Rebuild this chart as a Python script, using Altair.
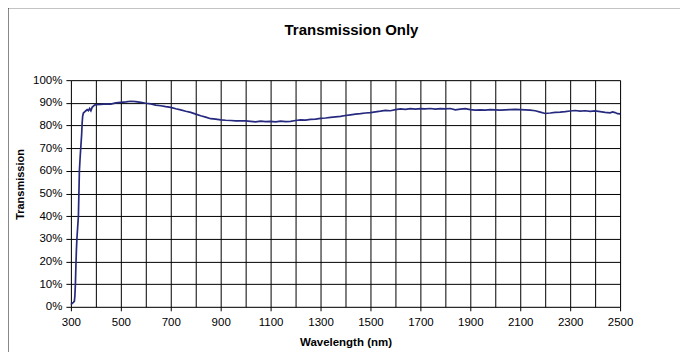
import altair as alt
import pandas as pd

wavelength = [300, 305, 310, 314, 316, 318, 320, 322, 324, 327, 330, 332, 334, 337, 340, 343, 345, 347,
              350, 355, 360, 365, 370, 375, 380, 385, 390, 395, 400, 420, 440, 460, 480, 500, 520, 540,
              560, 580, 600, 620, 640, 660, 680, 700, 720, 740, 760, 780, 800, 820, 840, 860, 880, 900,
              920, 940, 960, 980, 1000, 1020, 1040, 1060, 1080, 1100, 1120, 1140, 1160, 1180, 1200, 1220,
              1240, 1260, 1280, 1300, 1320, 1340, 1360, 1380, 1400, 1420, 1440, 1460, 1480, 1500, 1520,
              1540, 1560, 1580, 1600, 1620, 1640, 1660, 1680, 1700, 1720, 1740, 1760, 1780, 1800, 1820,
              1840, 1860, 1880, 1900, 1920, 1940, 1960, 1980, 2000, 2020, 2040, 2060, 2080, 2100, 2120,
              2140, 2160, 2180, 2200, 2220, 2240, 2260, 2280, 2300, 2320, 2340, 2360, 2380, 2400, 2420,
              2440, 2460, 2470, 2480, 2490, 2500]
transmission_pct = [1.0, 1.5, 2.0, 2.5, 5, 10, 18, 25, 30, 35, 40, 50, 60, 66, 71, 76, 81, 84,
                    85.5, 86, 86.5, 87, 86.5, 87.5, 86.5, 88, 88.5, 89, 89.2, 89.3, 89.5, 89.4, 90.0, 90.2,
                    90.4, 90.7, 90.5, 90.2, 89.8, 89.5, 89.0, 88.7, 88.3, 88.0, 87.4, 86.9, 86.3, 85.8, 85.0,
                    84.3, 83.7, 83.0, 82.8, 82.5, 82.3, 82.2, 82.0, 82.1, 82.0, 81.8, 81.6, 81.9, 81.7, 81.8,
                    81.6, 81.9, 81.7, 81.8, 82.2, 82.5, 82.4, 82.7, 82.8, 83.1, 83.3, 83.6, 83.8, 84.0, 84.4,
                    84.7, 85.0, 85.2, 85.5, 85.7, 86.0, 86.3, 86.7, 86.5, 87.0, 87.3, 87.1, 87.4, 87.2, 87.4,
                    87.3, 87.5, 87.2, 87.4, 87.3, 87.5, 86.9, 87.2, 87.4, 87.0, 86.8, 86.9, 86.8, 87.0, 86.9,
                    86.8, 86.9, 87.0, 87.1, 87.0, 86.9, 86.8, 86.5, 85.9, 85.3, 85.5, 85.8, 85.9, 86.1, 86.4,
                    86.6, 86.3, 86.5, 86.2, 86.4, 86.1, 85.8, 85.6, 86.0, 85.7, 85.2, 85.1]

x_label_ticks = list(range(300, 2501, 200))
x_grid_ticks = list(range(300, 2501, 100))
y_ticks = [i / 10 for i in range(0, 11)]

df = pd.DataFrame({"wl": wavelength, "t": [v / 100 for v in transmission_pct]})

FONT = "Liberation Sans"
xscale = alt.Scale(domain=[300, 2500], nice=False, zero=False)
yscale = alt.Scale(domain=[0, 1], nice=False)

line = alt.Chart(df).mark_line(color="#262A7E", strokeWidth=1.7).encode(
    x=alt.X("wl:Q", scale=xscale, axis=alt.Axis(
        values=x_label_ticks, format="d", grid=False, title="Wavelength (nm)", tickSize=4,
        tickColor="#000", domain=False, labelPadding=6, labelFontSize=11.5, labelFont=FONT,
        labelColor="#000", titleFont=FONT, titleFontSize=11.5, titleFontWeight="bold",
        titleColor="#000", titleY=39, titleBaseline="alphabetic", labelFlush=False,
        labelOverlap=False)),
    y=alt.Y("t:Q", scale=yscale, axis=alt.Axis(
        values=y_ticks, format=".0%", grid=True, gridColor="#000", gridOpacity=1, gridWidth=1,
        title="Transmission", tickSize=5, tickColor="#000", domain=False, labelPadding=4,
        labelFontSize=11.5, labelFont=FONT, labelColor="#000", titleFont=FONT, titleFontSize=11,
        titleFontWeight="bold", titleColor="#000", titleX=-47, titleY=104, titleAngle=-90,
        titleBaseline="alphabetic", titleAlign="center", labelFlush=False, labelOverlap=False)),
)

grid = alt.Chart(df).mark_point(opacity=0).encode(
    x=alt.X("wl:Q", scale=xscale, axis=alt.Axis(
        orient="top", values=x_grid_ticks, grid=True, gridColor="#000", gridOpacity=1, gridWidth=1,
        labels=False, ticks=False, domain=False, title=None)),
    y=alt.value(0),
)

border_df = pd.DataFrame({"k": [0]})
left_border = alt.Chart(border_df).mark_rule(color="#111", strokeWidth=2).encode(
    x=alt.value(-63.5), y=alt.value(-73), y2=alt.value(300))
top_border = alt.Chart(border_df).mark_rule(color="#111", strokeWidth=2).encode(
    x=alt.value(-64.5), x2=alt.value(640), y=alt.value(-73))

chart = alt.layer(line, grid, left_border, top_border).resolve_axis(x="independent").properties(
    width=550, height=227,
    autosize=alt.AutoSizeParams(type="none"),
    padding={"left": 63, "top": 72, "right": 60, "bottom": 50},
    title=alt.TitleParams("Transmission Only", font=FONT, fontSize=15, fontWeight="bold",
                          color="#000", anchor="middle", dx=6, offset=-44, baseline="alphabetic"),
).configure_view(stroke="#000", strokeWidth=1.2).configure(background="white")

chart.save("out.html", embed_options={"renderer": "svg", "actions": False})
